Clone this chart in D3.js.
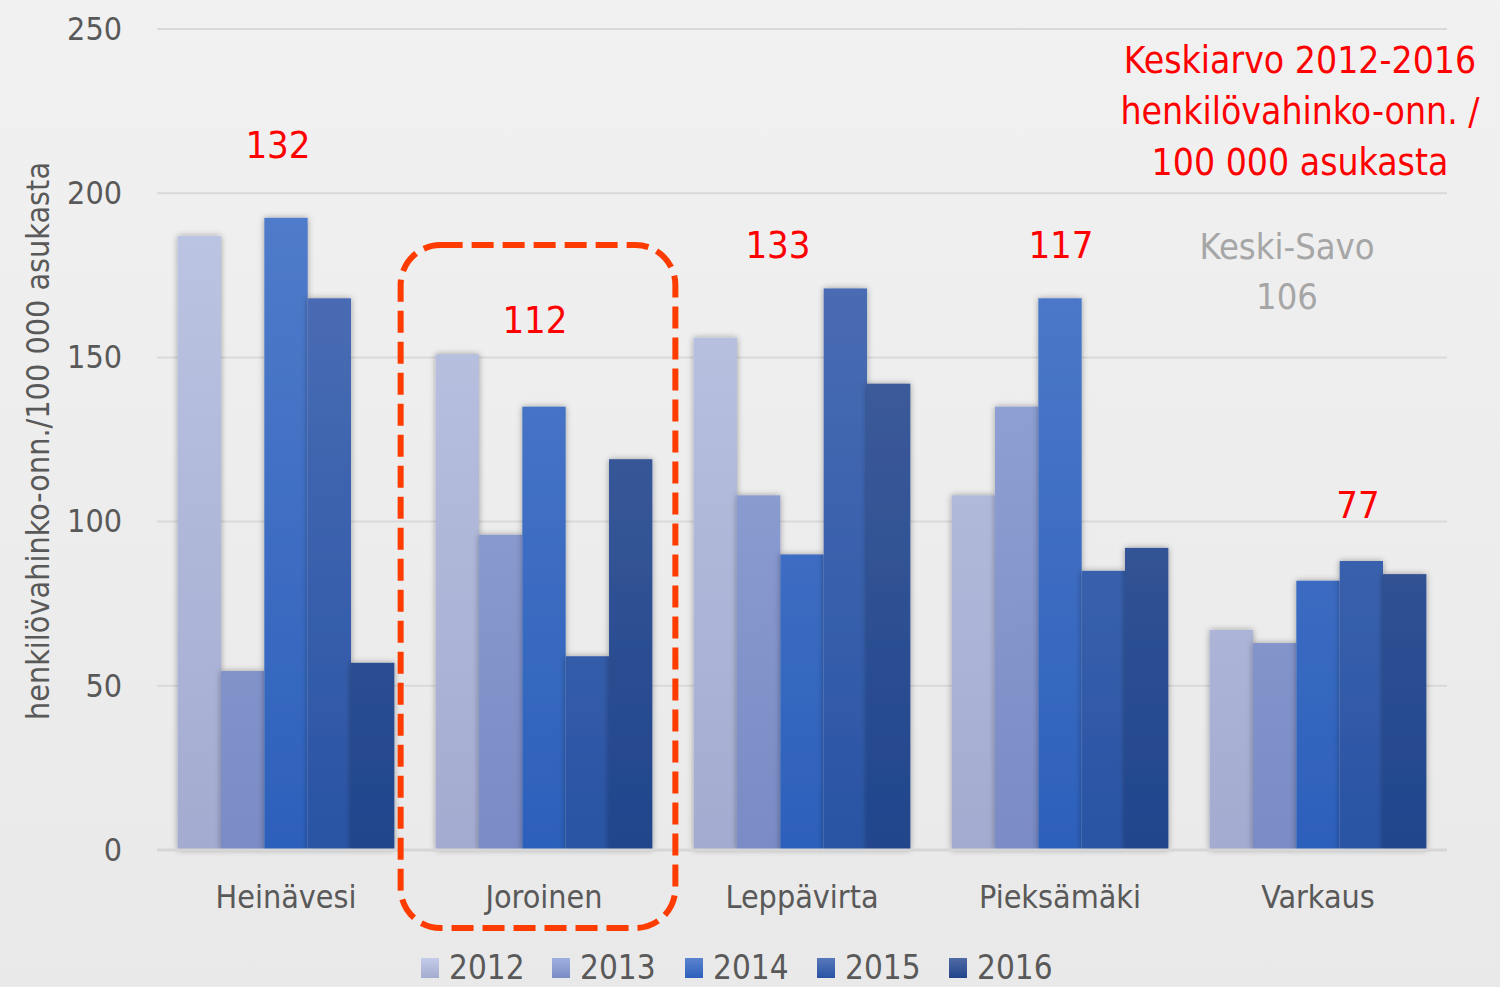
<!DOCTYPE html>
<html>
<head>
<meta charset="utf-8">
<script src="https://cdn.jsdelivr.net/npm/d3@7"></script>
<style>
  body { margin: 0; background: #ededed; }
  svg text { font-family: "DejaVu Sans Condensed", "Open Sans", sans-serif; }
</style>
</head>
<body>
<div id="chart"></div>
<script>
// data
var kunnat = ['Heinävesi', 'Joroinen', 'Leppävirta', 'Pieksämäki', 'Varkaus'];
var vuodet = ['2012', '2013', '2014', '2015', '2016'];
var v2012 = [187, 151, 156, 108, 67];
var v2013 = [54.5, 96, 108, 135, 63];
var v2014 = [192.5, 135, 90, 168, 82];
var v2015 = [168, 59, 171, 85, 88];
var v2016 = [57, 119, 142, 92, 84];
var keskiarvot = ['132', '112', '133', '117', '77'];
var yTicks = [0, 50, 100, 150, 200, 250];

var sarjat = [v2012, v2013, v2014, v2015, v2016];
var topColors = ['#c4cce9', '#9fb0df', '#5b83cf', '#5877bb', '#506aa3'];
var botColors = ['#a3abd0', '#7a8bc5', '#2c60bb', '#2954a4', '#20458c'];

var W = 1500, H = 987;
var margin = { top: 29, left: 157, right: 53, bottom: 137 };
var width = W - margin.left - margin.right,
    height = H - margin.top - margin.bottom;

var svg = d3.select('#chart').append('svg')
    .attr('width', W)
    .attr('height', H);

var defs = svg.append('defs');
var bg = defs.append('linearGradient').attr('id', 'bg')
    .attr('x1', 0).attr('y1', 0).attr('x2', 0).attr('y2', 1);
bg.append('stop').attr('offset', '0%').attr('stop-color', '#f1f1f1');
bg.append('stop').attr('offset', '100%').attr('stop-color', '#e9e9e9');

vuodet.forEach(function(v, i) {
  var g = defs.append('linearGradient').attr('id', 'g' + i)
      .attr('x1', 0).attr('x2', 0)
      .attr('gradientUnits', 'userSpaceOnUse')
      .attr('y1', 0).attr('y2', height);
  g.append('stop').attr('offset', '0%').attr('stop-color', topColors[i]);
  g.append('stop').attr('offset', '100%').attr('stop-color', botColors[i]);
  var lg = defs.append('linearGradient').attr('id', 'lg' + i)
      .attr('x1', 0).attr('y1', 0).attr('x2', 0).attr('y2', 1);
  lg.append('stop').attr('offset', '0%').attr('stop-color', topColors[i]);
  lg.append('stop').attr('offset', '100%').attr('stop-color', botColors[i]);
});

var shadow = defs.append('filter').attr('id', 'shadow')
    .attr('x', '-30%').attr('y', '-10%').attr('width', '160%').attr('height', '120%');
shadow.append('feDropShadow')
    .attr('dx', 0).attr('dy', 0).attr('stdDeviation', 3)
    .attr('flood-color', '#000').attr('flood-opacity', 0.35);

svg.append('rect').attr('width', W).attr('height', H).attr('fill', 'url(#bg)');

var y = d3.scaleLinear().domain([0, 250]).range([height, 0]);
var x0 = d3.scaleBand().domain(kunnat).range([0, width]).paddingInner(0.16).paddingOuter(0.08);
var x1 = d3.scaleBand().domain(vuodet).range([0, x0.bandwidth()]);

var graph = svg.append('g')
    .attr('transform', 'translate(' + margin.left + ',' + margin.top + ')');

// gridlines
graph.selectAll('.grid')
    .data(yTicks.filter(function(d) { return d > 0; }))
    .enter().append('line')
    .attr('x1', 0).attr('x2', width)
    .attr('y1', function(d) { return y(d); })
    .attr('y2', function(d) { return y(d); })
    .attr('stroke', '#d9d9d9')
    .attr('stroke-width', 2);

// y axis ticks
var yAxis = graph.append('g')
    .call(d3.axisLeft(y).tickValues(yTicks).tickSize(0).tickPadding(35));
yAxis.select('.domain').remove();
yAxis.selectAll('text')
    .style('font-size', '32px')
    .attr('fill', '#595959');

// bars
var groups = graph.selectAll('.kunta')
    .data(kunnat)
    .enter().append('g')
    .attr('transform', function(d) { return 'translate(' + x0(d) + ',0)'; });

groups.selectAll('rect')
    .data(function(d, i) {
      return vuodet.map(function(v, j) { return { vuosi: v, j: j, arvo: sarjat[j][i] }; });
    })
    .enter().append('rect')
    .attr('x', function(d) { return x1(d.vuosi); })
    .attr('width', x1.bandwidth())
    .attr('y', function(d) { return y(d.arvo); })
    .attr('height', function(d) { return height - y(d.arvo); })
    .attr('fill', function(d) { return 'url(#g' + d.j + ')'; })
    .attr('filter', 'url(#shadow)');

// baseline
graph.append('line')
    .attr('x1', 0).attr('x2', width)
    .attr('y1', y(0)).attr('y2', y(0))
    .attr('stroke', '#d6d6d6')
    .attr('stroke-width', 3);

// x axis
var xAxis = graph.append('g')
    .attr('transform', 'translate(0,' + height + ')')
    .call(d3.axisBottom(x0).tickSize(0).tickPadding(35));
xAxis.select('.domain').remove();
xAxis.selectAll('text')
    .style('font-size', '32px')
    .attr('fill', '#595959');

// averages (label offsets from group centre)
var avgDx = [-8, -9, -24, 1, 40];
var avgY = [158, 333, 258, 258, 518];
graph.selectAll('.avg')
    .data(keskiarvot)
    .enter().append('text')
    .attr('x', function(d, i) { return x0(kunnat[i]) + x0.bandwidth() / 2 + avgDx[i]; })
    .attr('y', function(d, i) { return avgY[i] - margin.top; })
    .attr('text-anchor', 'middle')
    .attr('fill', '#ff0000')
    .style('font-size', '38px')
    .text(function(d) { return d; });

// highlight box around Joroinen
graph.append('rect')
    .attr('x', x0('Joroinen') - 35)
    .attr('y', 245 - margin.top)
    .attr('width', x0.bandwidth() + 58)
    .attr('height', 683)
    .attr('rx', 40).attr('ry', 40)
    .attr('fill', 'none')
    .attr('stroke', '#ff3c00')
    .attr('stroke-width', 6)
    .attr('stroke-dasharray', '22,9');

// y label
svg.append('text')
    .attr('transform', 'translate(49,441) rotate(-90)')
    .attr('text-anchor', 'middle')
    .attr('fill', '#595959')
    .style('font-size', '32px')
    .text('henkilövahinko-onn./100 000 asukasta');

// red note
var note = ['Keskiarvo 2012-2016', 'henkilövahinko-onn. /', '100 000 asukasta'];
svg.selectAll('.note')
    .data(note)
    .enter().append('text')
    .attr('x', 1300)
    .attr('y', function(d, i) { return 73 + i * 51; })
    .attr('text-anchor', 'middle')
    .attr('fill', '#ff0000')
    .style('font-size', '37px')
    .text(function(d) { return d; });

// Keski-Savo
var ks = ['Keski-Savo', '106'];
svg.selectAll('.ks')
    .data(ks)
    .enter().append('text')
    .attr('x', 1287)
    .attr('y', function(d, i) { return 259 + i * 50; })
    .attr('text-anchor', 'middle')
    .attr('fill', '#a6a6a6')
    .style('font-size', '36px')
    .text(function(d) { return d; });

// legend
var legendX = [421, 552, 685, 817, 949];
var legend = svg.selectAll('.leg')
    .data(vuodet)
    .enter().append('g')
    .attr('transform', function(d, i) { return 'translate(' + legendX[i] + ',958)'; });
legend.append('rect')
    .attr('width', 18).attr('height', 20)
    .attr('fill', function(d, i) { return 'url(#lg' + i + ')'; });
legend.append('text')
    .attr('x', 28).attr('y', 21)
    .attr('fill', '#595959')
    .style('font-size', '33px')
    .text(function(d) { return d; });
</script>
</body>
</html>
